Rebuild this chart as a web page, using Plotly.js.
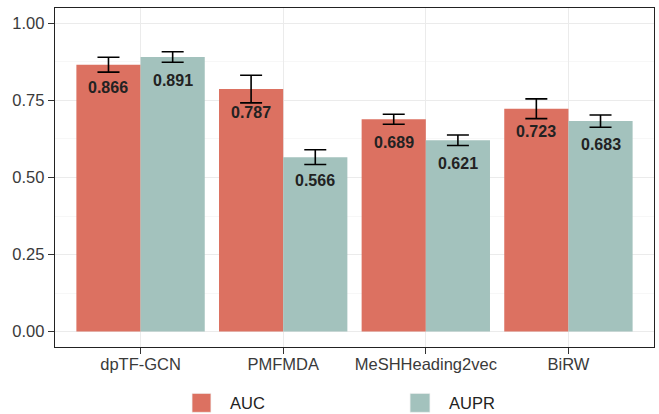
<!DOCTYPE html>
<html>
<head>
<meta charset="utf-8">
<script src="https://cdn.plot.ly/plotly-3.0.1.min.js"></script>
<style>html,body{margin:0;padding:0;background:#fff;}#chart{width:659px;height:414px;}</style>
</head>
<body>
<div id="chart"></div>
<script>
const methods = ["dpTF-GCN", "PMFMDA", "MeSHHeading2vec", "BiRW"];
const aucValues = [0.866, 0.787, 0.689, 0.723];
const auprValues = [0.891, 0.566, 0.621, 0.683];
const aucErrors = [0.024, 0.045, 0.016, 0.032];
const auprErrors = [0.017, 0.024, 0.017, 0.020];
const seriesNames = ["AUC", "AUPR"];
const yTickVals = [0, 0.25, 0.5, 0.75, 1.0];
const yTickText = ["0.00", "0.25", "0.50", "0.75", "1.00"];

const aucColor = "#DC7161";
const auprColor = "#A3C2BD";
const FONT = "Liberation Sans, Arial, sans-serif";

const errStyle = {type: "data", visible: true, color: "#000", thickness: 1.6, width: 11};

const traces = [
  {type: "bar", name: seriesNames[0], x: methods, y: aucValues,
   marker: {color: aucColor}, showlegend: false,
   error_y: Object.assign({array: aucErrors}, errStyle), hoverinfo: "none"},
  {type: "bar", name: seriesNames[1], x: methods, y: auprValues,
   marker: {color: auprColor}, showlegend: false,
   error_y: Object.assign({array: auprErrors}, errStyle), hoverinfo: "none"}
];

const annotations = [];
const half = 0.225;
methods.forEach((m, i) => {
  annotations.push({x: i - half, y: aucValues[i], xref: "x", yref: "y", yshift: -23,
    text: aucValues[i].toFixed(3), showarrow: false,
    font: {family: FONT, size: 16, color: "#222", weight: "bold"}});
  annotations.push({x: i + half, y: auprValues[i], xref: "x", yref: "y", yshift: -23,
    text: auprValues[i].toFixed(3), showarrow: false,
    font: {family: FONT, size: 16, color: "#222", weight: "bold"}});
});

// Legend drawn as keys + labels below the panel (paper coordinates)
const legendKeys = [
  {x0: 0.2287, x1: 0.2604, tx: 0.2888, color: aucColor, label: seriesNames[0]},
  {x0: 0.5927, x1: 0.6260, tx: 0.6544, color: auprColor, label: seriesNames[1]}
];
const shapes = [];
legendKeys.forEach(k => {
  shapes.push({type: "rect", xref: "paper", yref: "paper", x0: k.x0, x1: k.x1,
    y0: -0.1928, y1: -0.1367, fillcolor: k.color, line: {color: "#F2F2F2", width: 0.8}, layer: "above"});
  annotations.push({xref: "paper", yref: "paper", x: k.tx, y: -0.1662, xanchor: "left", yanchor: "middle",
    text: k.label, showarrow: false, font: {family: FONT, size: 16.5, color: "#222"}});
});

const layout = {
  width: 659, height: 414,
  margin: {l: 55, r: 5, t: 8, b: 67, pad: 0, autoexpand: false},
  paper_bgcolor: "#fff", plot_bgcolor: "#fff",
  font: {family: FONT, size: 16.5, color: "#3a3a3a"},
  barmode: "group", bargap: 0.1, bargroupgap: 0,
  showlegend: false,
  xaxis: {
    type: "category", range: [-0.6, 3.6],
    showgrid: true, gridcolor: "#EBEBEB", gridwidth: 1.2,
    showline: true, mirror: true, linecolor: "#222", linewidth: 1.3,
    ticks: "outside", ticklen: 6, tickwidth: 1.3, tickcolor: "#333",
    ticklabelstandoff: -4,
    tickfont: {size: 16.5, color: "#3a3a3a"}, zeroline: false, automargin: false
  },
  yaxis: {
    range: [-0.05, 1.05],
    tickvals: yTickVals, ticktext: yTickText,
    showgrid: true, gridcolor: "#EBEBEB", gridwidth: 1.2,
    minor: {tickvals: [0.125, 0.375, 0.625, 0.875], showgrid: true, gridcolor: "#F3F3F3", gridwidth: 0.7, ticks: ""},
    showline: true, mirror: true, linecolor: "#222", linewidth: 1.3,
    ticks: "outside", ticklen: 6, tickwidth: 1.3, tickcolor: "#333",
    tickfont: {size: 16.5, color: "#3a3a3a"}, zeroline: false, automargin: false
  },
  shapes: shapes,
  annotations: annotations
};

Plotly.newPlot("chart", traces, layout, {displayModeBar: false, staticPlot: true});
</script>
</body>
</html>
